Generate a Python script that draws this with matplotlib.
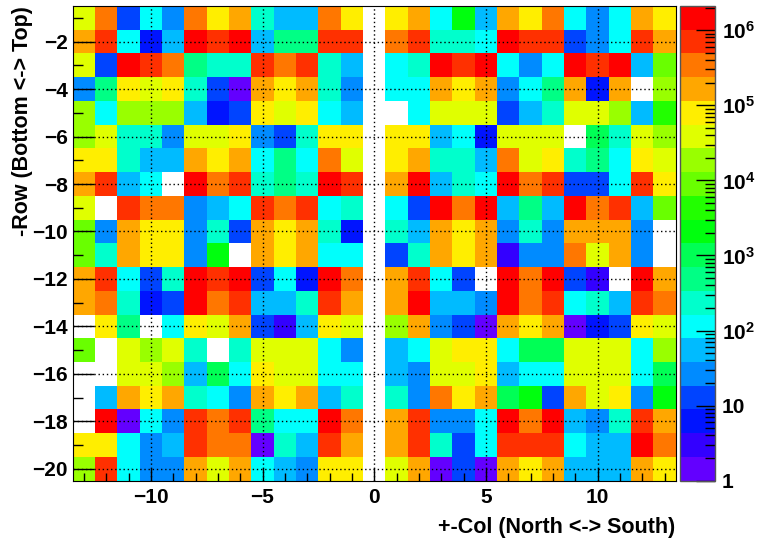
import colorsys
import numpy as np
import matplotlib
matplotlib.use('Agg')
import matplotlib.pyplot as plt
from matplotlib.colors import ListedColormap, LogNorm
from matplotlib.ticker import LogLocator, FixedLocator, FuncFormatter, NullFormatter

# ----------------------------------------------------------------------
# Data : counts per cell, rows -1 (top) .. -20 (bottom)
# ----------------------------------------------------------------------

cols_north = list(range(-13, 0))   # -13 .. -1
cols_south = list(range(1, 14))    #   1 .. 13
rows = list(range(-1, -21, -1))

counts_north = [
    [3.8e4, 3.4e5, 13, 110, 26, 3.4e5, 7.9e4, 1.6e5, 230, 55, 55, 3.4e5, 7.9e4],
    [1.6e5, 7e5, 110, 6, 55, 1.4e6, 7e5, 1.4e6, 55, 490, 490, 7e5, 7e5],
    [3.8e4, 13, 1.4e6, 7e5, 3.4e5, 490, 230, 230, 7e5, 3.4e5, 7e5, 230, 55],
    [26, 490, 7.9e4, 3.8e4, 7.9e4, 230, 13, 2, 1.6e5, 7.9e4, 1.6e5, 230, 26],
    [1.8e4, 110, 1.8e4, 1.8e4, 1.8e4, 55, 6, 13, 7.9e4, 3.8e4, 7.9e4, 110, 55],
    [1.8e4, 3.8e4, 230, 230, 26, 3.8e4, 3.8e4, 7.9e4, 26, 13, 230, 7.9e4, 7.9e4],
    [7.9e4, 7.9e4, 230, 55, 55, 1.6e5, 7.9e4, 1.6e5, 110, 490, 110, 3.4e5, 3.8e4],
    [1.6e5, 7e5, 55, 110, 0, 1.4e6, 3.4e5, 7e5, 230, 490, 230, 1.4e6, 7e5],
    [3.8e4, 0, 7e5, 3.4e5, 3.4e5, 26, 55, 110, 7e5, 3.4e5, 7e5, 110, 230],
    [8.9e3, 26, 1.6e5, 7.9e4, 7.9e4, 26, 230, 13, 1.6e5, 7.9e4, 1.6e5, 230, 6],
    [8.9e3, 230, 1.6e5, 7.9e4, 7.9e4, 26, 2.1e3, 0, 1.6e5, 7.9e4, 1.6e5, 110, 110],
    [1.6e5, 7e5, 110, 13, 230, 1.4e6, 7e5, 1.4e6, 13, 110, 6, 1.4e6, 3.4e5],
    [1.6e5, 3.4e5, 230, 6, 13, 1.4e6, 3.4e5, 7e5, 55, 55, 230, 7e5, 1.6e5],
    [0, 7.9e4, 490, 0, 110, 7.9e4, 3.8e4, 1.6e5, 13, 3, 55, 7.9e4, 3.8e4],
    [8.9e3, 0, 3.8e4, 1.8e4, 3.8e4, 230, 0, 230, 3.8e4, 3.8e4, 3.8e4, 110, 26],
    [0, 0, 3.8e4, 3.8e4, 1.8e4, 55, 1e3, 110, 7.9e4, 3.8e4, 3.8e4, 110, 110],
    [0, 55, 1.6e5, 7.9e4, 1.6e5, 230, 110, 26, 1.6e5, 7.9e4, 1.6e5, 55, 230],
    [0, 1.4e6, 2, 110, 26, 7e5, 3.4e5, 7e5, 490, 110, 110, 1.4e6, 3.4e5],
    [7.9e4, 7.9e4, 110, 26, 55, 7e5, 3.4e5, 3.4e5, 2, 230, 55, 7e5, 1.6e5],
    [1.8e4, 7e5, 110, 26, 26, 1.6e5, 3.8e4, 1.6e5, 110, 55, 26, 7.9e4, 7.9e4],
]

counts_south = [
    [7.9e4, 1.6e5, 110, 2.1e3, 55, 1.6e5, 7.9e4, 3.4e5, 110, 26, 110, 1.6e5, 7.9e4],
    [3.4e5, 7e5, 230, 230, 110, 1.4e6, 7e5, 7e5, 13, 26, 110, 7e5, 1.6e5],
    [110, 230, 1.4e6, 7e5, 1.4e6, 110, 26, 110, 1.4e6, 7e5, 1.4e6, 55, 8.9e3],
    [110, 110, 1.6e5, 7.9e4, 1.6e5, 26, 110, 490, 1.6e5, 6, 1.6e5, 0, 1.8e4],
    [0, 110, 3.8e4, 3.8e4, 3.8e4, 13, 55, 230, 3.8e4, 3.8e4, 1.8e4, 55, 4.3e3],
    [7.9e4, 7.9e4, 55, 110, 6, 3.8e4, 3.8e4, 3.8e4, 0, 1e3, 230, 3.8e4, 1.8e4],
    [7.9e4, 1.6e5, 230, 230, 55, 3.4e5, 3.8e4, 7.9e4, 230, 490, 110, 7.9e4, 3.8e4],
    [1.6e5, 1.4e6, 55, 230, 110, 1.4e6, 3.4e5, 7e5, 13, 13, 110, 7e5, 7.9e4],
    [110, 13, 1.4e6, 3.4e5, 1.4e6, 55, 490, 55, 1.4e6, 3.4e5, 7e5, 55, 8.9e3],
    [230, 55, 1.6e5, 7.9e4, 1.6e5, 26, 230, 26, 1.6e5, 1.6e5, 1.6e5, 26, 0],
    [13, 230, 1.6e5, 7.9e4, 1.6e5, 3, 26, 26, 3.4e5, 3.8e4, 1.6e5, 26, 0],
    [1.6e5, 7e5, 110, 13, 0, 1.4e6, 3.4e5, 1.4e6, 13, 3, 0, 1.4e6, 1.6e5],
    [1.6e5, 1.4e6, 55, 55, 26, 1.4e6, 3.4e5, 7e5, 110, 230, 55, 7e5, 3.4e5],
    [1.8e4, 1.6e5, 26, 13, 2, 1.6e5, 7.9e4, 1.6e5, 2, 6, 13, 7.9e4, 3.8e4],
    [55, 110, 3.8e4, 7.9e4, 7.9e4, 110, 1e3, 1e3, 3.8e4, 3.8e4, 3.8e4, 110, 1.8e4],
    [55, 26, 3.8e4, 3.8e4, 7.9e4, 55, 110, 110, 3.8e4, 3.8e4, 3.8e4, 110, 1e3],
    [230, 26, 3.4e5, 7.9e4, 1.6e5, 1e3, 2.1e3, 13, 1.6e5, 3.8e4, 7.9e4, 26, 2.1e3],
    [1.6e5, 7e5, 26, 26, 110, 1.4e6, 3.4e5, 1.4e6, 55, 26, 230, 7e5, 1.6e5],
    [1.6e5, 7e5, 230, 13, 110, 7e5, 7e5, 7e5, 110, 55, 55, 1.4e6, 3.4e5],
    [3.8e4, 1.6e5, 2, 13, 2, 1.6e5, 7.9e4, 1.6e5, 55, 55, 55, 1.6e5, 7.9e4],
]

zmin = 1.0
zmax = 2.1e6

# ----------------------------------------------------------------------
# ROOT "pretty" palette, 20 contour levels
# ----------------------------------------------------------------------

pal = []
for k in range(20):
    i = int((k + 0.99) * 50 / 20)
    hue = 280.0 - (i + 1) * 280.0 / 50
    pal.append(colorsys.hls_to_rgb(hue / 360.0, 0.5, 1.0))
pal[-1] = (1.0, 0.0, 0.0)
cmap = ListedColormap(pal)
cmap.set_bad('white')

plt.rcParams['font.family'] = ['Liberation Sans', 'DejaVu Sans']
plt.rcParams['font.weight'] = 'bold'
plt.rcParams['mathtext.fontset'] = 'custom'
plt.rcParams['mathtext.rm'] = 'Liberation Sans:bold'
plt.rcParams['mathtext.bf'] = 'Liberation Sans:bold'
plt.rcParams['mathtext.default'] = 'bf'

# full grid: empty column 0 between north and south halves
zero_col = np.zeros((len(rows), 1))
grid = np.hstack([np.array(counts_north), zero_col, np.array(counts_south)])
cols = cols_north + [0] + cols_south

xedges = np.arange(cols[0] - 0.5, cols[-1] + 1.0, 1.0)
yedges = np.arange(rows[-1] - 0.5, rows[0] + 1.0, 1.0)
z = np.ma.masked_less_equal(grid[::-1], 0)

fig = plt.figure(figsize=(7.68, 5.4), dpi=100)
ax = fig.add_axes([72.7 / 768, 1 - 480.7 / 540, 603.0 / 768, 474.7 / 540])
cax = fig.add_axes([680.0 / 768, 1 - 480.7 / 540, 35.0 / 768, 474.7 / 540])

norm = LogNorm(vmin=zmin, vmax=zmax)
mesh = ax.pcolormesh(xedges, yedges, z, cmap=cmap, norm=norm)

ax.set_xlim(xedges[0], xedges[-1])
ax.set_ylim(yedges[0], yedges[-1])

ax.set_xticks([-10, -5, 0, 5, 10])
ax.xaxis.set_minor_locator(FixedLocator(range(-13, 14)))
ax.set_yticks(range(-20, 0, 2))
ax.yaxis.set_minor_locator(FixedLocator(range(-20, 0)))

ax.tick_params(axis='both', which='both', direction='in', labelsize=15,
               top=False, right=False, width=1)
ax.tick_params(axis='x', which='major', length=9.5, pad=5)
ax.tick_params(axis='x', which='minor', length=5.5)
ax.tick_params(axis='y', which='major', length=15, pad=3.5)
ax.tick_params(axis='y', which='minor', length=7.5)

ax.grid(True, which='major', color='black', linestyle=(0, (1, 2)),
        linewidth=1.0)
ax.set_axisbelow(False)

ax.set_xlabel('+-Col (North <-> South)', fontsize=15.5, fontweight='bold',
              loc='right')
ax.xaxis.set_label_coords(1.0, -(517 - 480.7) / 474.7)
ax.set_ylabel('-Row (Bottom <-> Top)', fontsize=15.5, fontweight='bold',
              loc='top')
ax.yaxis.set_label_coords(-(72.7 - 33) / 603.0, 1.0)

cb = fig.colorbar(mesh, cax=cax)
cb.outline.set_linewidth(1.0)
cb.outline.set_edgecolor('#555555')


def fmt(v, pos):
    e = int(round(np.log10(v)))
    if e == 0:
        return '1'
    if e == 1:
        return '10'
    return '$10^{%d}$' % e


cax.yaxis.set_major_locator(LogLocator(base=10, numticks=10))
cax.yaxis.set_minor_locator(LogLocator(base=10, subs=np.arange(2, 10),
                                       numticks=10))
cax.yaxis.set_major_formatter(FuncFormatter(fmt))
cax.yaxis.set_minor_formatter(NullFormatter())
cax.tick_params(axis='y', which='both', direction='in', right=True,
                left=False, labelsize=15, width=1)
cax.tick_params(axis='y', which='major', length=14, pad=5)
cax.tick_params(axis='y', which='minor', length=7)

fig.savefig('out.png', dpi=100)
